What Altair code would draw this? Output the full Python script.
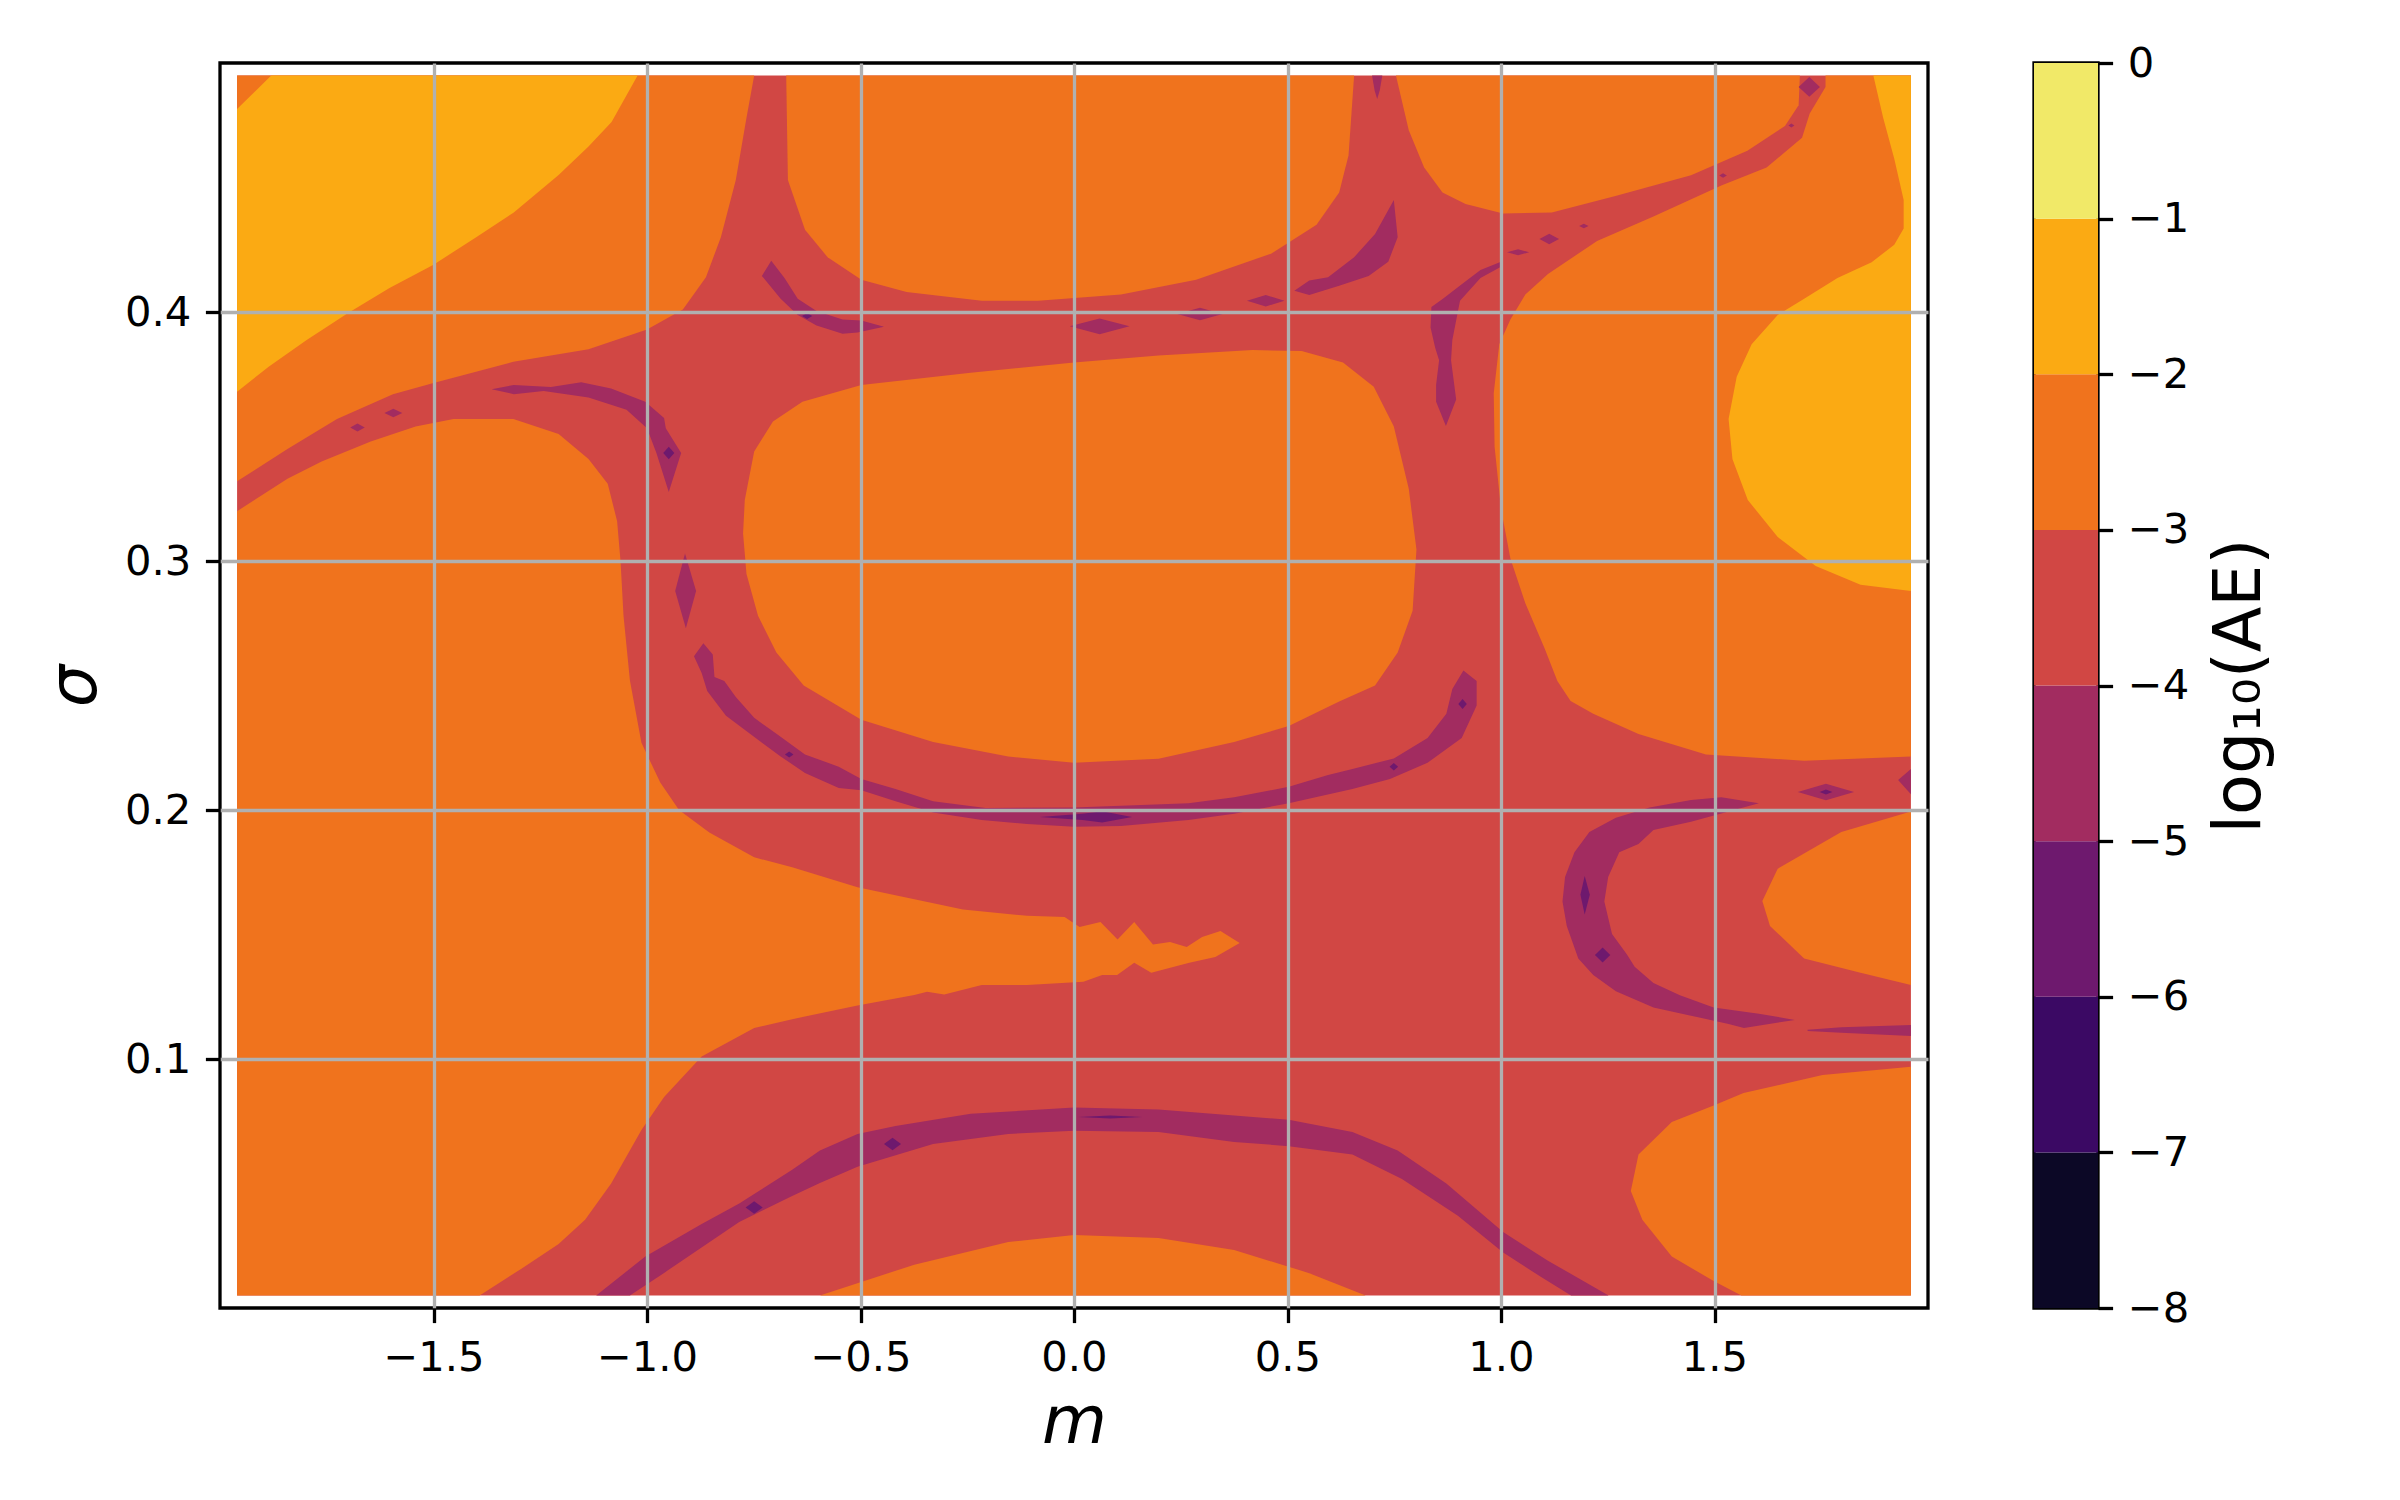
import altair as alt
import pandas as pd

# ---------------- colour bands (log10(AE) levels) ----------------
LEVELS = [-8, -7, -6, -5, -4, -3, -2, -1, 0]
BAND_NAMES = ["-8..-7", "-7..-6", "-6..-5", "-5..-4", "-4..-3", "-3..-2", "-2..-1", "-1..0"]
BAND_COLORS = ["#0c0826", "#3b0964", "#6e196e", "#a22c60", "#d14744", "#f0731d", "#fbaa13", "#f1e968"]

X_TICKS = [-1.5, -1.0, -0.5, 0.0, 0.5, 1.0, 1.5]
Y_TICKS = [0.1, 0.2, 0.3, 0.4]

# ---------------- contour regions, (m, sigma) vertices ----------------
# band -4..-3 : whole grid (background of the contour set)
RED_BG = [(-1.96, 0.005), (1.96, 0.005), (1.96, 0.495), (-1.96, 0.495)]

# band -3..-2 regions
ORANGE_A = [(-1.96, 0.495), (-1.96, 0.332), (-1.842, 0.345), (-1.726, 0.357), (-1.595, 0.367),
            (-1.50, 0.3715), (-1.313, 0.380), (-1.137, 0.385), (-1.0, 0.393), (-0.916, 0.401),
            (-0.862, 0.414), (-0.827, 0.430), (-0.792, 0.453), (-0.767, 0.478), (-0.749, 0.495)]
ORANGE_B = [(-1.96, 0.320), (-1.842, 0.333), (-1.762, 0.340), (-1.647, 0.348), (-1.542, 0.354),
            (-1.453, 0.357), (-1.313, 0.357), (-1.207, 0.351), (-1.137, 0.341), (-1.092, 0.331),
            (-1.07, 0.316), (-1.062, 0.300), (-1.055, 0.278), (-1.04, 0.252), (-1.013, 0.227),
            (-0.969, 0.211), (-0.925, 0.200), (-0.854, 0.191), (-0.749, 0.181), (-0.66, 0.177),
            (-0.507, 0.169), (-0.26, 0.160), (-0.11, 0.1575), (-0.022, 0.157), (0.013, 0.153),
            (0.062, 0.155), (0.102, 0.148), (0.141, 0.155), (0.185, 0.146), (0.225, 0.147),
            (0.264, 0.145), (0.30, 0.149), (0.343, 0.1514), (0.388, 0.1466), (0.331, 0.141),
            (0.27, 0.1387), (0.181, 0.1346), (0.141, 0.1387), (0.101, 0.1337), (0.066, 0.1337),
            (0.022, 0.131), (-0.11, 0.1297), (-0.216, 0.1297), (-0.304, 0.1259), (-0.344, 0.127),
            (-0.374, 0.1257), (-0.507, 0.1215), (-0.66, 0.116), (-0.749, 0.1124), (-0.872, 0.101),
            (-0.96, 0.0847), (-1.013, 0.0715), (-1.084, 0.050), (-1.145, 0.0354), (-1.207, 0.0257),
            (-1.295, 0.0157), (-1.392, 0.005), (-1.96, 0.005)]
ORANGE_C = [(-0.674, 0.495), (-0.67, 0.453), (-0.63, 0.433), (-0.577, 0.422), (-0.498, 0.413),
            (-0.392, 0.408), (-0.216, 0.4045), (-0.084, 0.4045), (0.11, 0.407), (0.286, 0.413),
            (0.4625, 0.4235), (0.568, 0.435), (0.621, 0.448), (0.643, 0.463), (0.656, 0.495)]
ORANGE_D = [(-0.705, 0.356), (-0.636, 0.364), (-0.498, 0.3707), (-0.242, 0.3756), (0.0, 0.3797),
            (0.198, 0.3825), (0.418, 0.3847), (0.533, 0.3843), (0.63, 0.3797), (0.702, 0.370),
            (0.749, 0.354), (0.784, 0.329), (0.802, 0.3046), (0.793, 0.280), (0.758, 0.2633),
            (0.705, 0.250), (0.621, 0.2436), (0.503, 0.2337), (0.375, 0.2273), (0.198, 0.2206),
            (0.0, 0.219), (-0.154, 0.2215), (-0.33, 0.2273), (-0.498, 0.2362), (-0.633, 0.250),
            (-0.697, 0.2633), (-0.74, 0.278), (-0.767, 0.2948), (-0.775, 0.311), (-0.771, 0.3245),
            (-0.749, 0.344)]
ORANGE_E = [(0.754, 0.495), (0.784, 0.473), (0.82, 0.458), (0.863, 0.448), (0.917, 0.4434),
            (1.005, 0.4396), (1.119, 0.440), (1.268, 0.4466), (1.445, 0.4549), (1.577, 0.4648),
            (1.665, 0.4747), (1.697, 0.483), (1.70, 0.495)]
ORANGE_F = [(1.76, 0.495), (1.76, 0.4904), (1.723, 0.4797), (1.705, 0.470), (1.622, 0.458),
            (1.516, 0.4508), (1.357, 0.4384), (1.225, 0.4285), (1.11, 0.4153), (1.057, 0.407),
            (1.022, 0.397), (0.996, 0.387), (0.983, 0.3674), (0.985, 0.3459), (1.0, 0.321),
            (1.022, 0.301), (1.057, 0.283), (1.102, 0.265), (1.132, 0.2518), (1.163, 0.2438),
            (1.216, 0.2387), (1.322, 0.2305), (1.48, 0.2223), (1.71, 0.2198), (1.96, 0.2215),
            (1.96, 0.495)]
ORANGE_G = [(1.96, 0.1994), (1.797, 0.1912), (1.648, 0.1764), (1.612, 0.1635), (1.63, 0.1534),
            (1.71, 0.1404), (1.842, 0.1346), (1.96, 0.1297)]
ORANGE_H = [(1.96, 0.0969), (1.753, 0.0936), (1.568, 0.0863), (1.498, 0.0813), (1.40, 0.0747),
            (1.322, 0.0616), (1.304, 0.047), (1.331, 0.0354), (1.40, 0.0207), (1.498, 0.0108),
            (1.563, 0.005), (1.96, 0.005)]
ORANGE_I = [(-0.595, 0.005), (-0.374, 0.0174), (-0.154, 0.0265), (0.0, 0.0293), (0.198, 0.0281),
            (0.375, 0.0233), (0.551, 0.014), (0.683, 0.005)]

# band -2..-1 regions
LIGHT_A = [(-1.96, 0.4815), (-1.88, 0.495), (-1.022, 0.495), (-1.083, 0.4763), (-1.137, 0.4665),
           (-1.207, 0.455), (-1.312, 0.440), (-1.40, 0.430), (-1.50, 0.419), (-1.603, 0.4096),
           (-1.70, 0.3996), (-1.797, 0.3888), (-1.886, 0.378), (-1.96, 0.368)]
LIGHT_B = [(1.872, 0.495), (1.895, 0.478), (1.921, 0.4615), (1.943, 0.445), (1.943, 0.4335),
           (1.921, 0.427), (1.868, 0.420), (1.788, 0.4137), (1.71, 0.4053), (1.648, 0.3988),
           (1.587, 0.387), (1.552, 0.374), (1.533, 0.357), (1.542, 0.341), (1.578, 0.3245),
           (1.648, 0.3096), (1.737, 0.298), (1.842, 0.2905), (1.96, 0.288), (1.96, 0.495)]

# band -5..-4 regions
PURPLE_1 = [(-1.364, 0.369), (-1.312, 0.3707), (-1.225, 0.3699), (-1.154, 0.3718), (-1.084, 0.3693),
            (-1.004, 0.364), (-0.96, 0.3574), (-0.956, 0.3533), (-0.92, 0.3434), (-0.949, 0.3277),
            (-0.978, 0.3434), (-1.0, 0.3533), (-1.048, 0.3607), (-1.137, 0.3657), (-1.242, 0.3683),
            (-1.312, 0.367)]
PURPLE_2 = [(-1.615, 0.3594), (-1.594, 0.3611), (-1.573, 0.3594), (-1.594, 0.3577)]
PURPLE_3 = [(-1.695, 0.3536), (-1.678, 0.3552), (-1.661, 0.3536), (-1.678, 0.352)]
PURPLE_4 = [(-0.911, 0.303), (-0.885, 0.288), (-0.909, 0.273), (-0.934, 0.288)]
PURPLE_5 = [(-0.868, 0.267), (-0.846, 0.2625), (-0.842, 0.2534), (-0.819, 0.2518), (-0.792, 0.2454),
            (-0.749, 0.237), (-0.696, 0.2305), (-0.63, 0.2223), (-0.551, 0.2174), (-0.498, 0.2124),
            (-0.418, 0.2084), (-0.33, 0.2035), (-0.207, 0.2008), (0.0, 0.201), (0.268, 0.2027),
            (0.375, 0.2051), (0.503, 0.2093), (0.595, 0.2141), (0.652, 0.2165), (0.749, 0.2207),
            (0.828, 0.2289), (0.872, 0.2387), (0.886, 0.2486), (0.912, 0.256), (0.943, 0.2518),
            (0.943, 0.242), (0.908, 0.2289), (0.828, 0.219), (0.74, 0.2124), (0.652, 0.2084),
            (0.503, 0.2027), (0.375, 0.1985), (0.268, 0.196), (0.11, 0.1936), (0.0, 0.1933),
            (-0.11, 0.1944), (-0.216, 0.196), (-0.33, 0.199), (-0.418, 0.2035), (-0.498, 0.2079),
            (-0.551, 0.2088), (-0.63, 0.2149), (-0.687, 0.2215), (-0.758, 0.2305), (-0.815, 0.2379),
            (-0.859, 0.2478), (-0.872, 0.255), (-0.89, 0.2617)]
PURPLE_6 = [(-0.709, 0.4206), (-0.678, 0.4137), (-0.647, 0.4053), (-0.603, 0.4004), (-0.542, 0.397),
            (-0.498, 0.3966), (-0.445, 0.3941), (-0.507, 0.3918), (-0.542, 0.3913), (-0.603, 0.3946),
            (-0.647, 0.3988), (-0.687, 0.4053), (-0.731, 0.4145)]
PURPLE_7 = [(-0.01, 0.3943), (0.06, 0.3974), (0.13, 0.3943), (0.06, 0.3911)]
PURPLE_8 = [(0.242, 0.3992), (0.295, 0.4017), (0.348, 0.3992), (0.295, 0.3967)]
PURPLE_9 = [(0.405, 0.4045), (0.449, 0.4068), (0.493, 0.4045), (0.449, 0.4022)]
PURPLE_10 = [(0.516, 0.4085), (0.551, 0.4127), (0.595, 0.414), (0.656, 0.422), (0.705, 0.4313),
             (0.749, 0.445), (0.758, 0.430), (0.736, 0.4202), (0.69, 0.4145), (0.621, 0.4105),
             (0.551, 0.4068)]
PURPLE_11 = [(0.698, 0.495), (0.722, 0.495), (0.716, 0.489), (0.71, 0.4855), (0.704, 0.489)]
PURPLE_12 = [(1.0, 0.4202), (0.952, 0.4169), (0.908, 0.4111), (0.864, 0.4053), (0.837, 0.402),
             (0.835, 0.3938), (0.846, 0.3855), (0.855, 0.3806), (0.848, 0.3707), (0.848, 0.364),
             (0.871, 0.3542), (0.895, 0.3649), (0.883, 0.3806), (0.886, 0.3888), (0.904, 0.4045),
             (0.952, 0.4137), (1.0, 0.4182)]
PURPLE_13 = [(1.014, 0.424), (1.04, 0.4252), (1.066, 0.424), (1.04, 0.4228)]
PURPLE_14 = [(1.09, 0.4293), (1.113, 0.4314), (1.136, 0.4293), (1.113, 0.4272)]
PURPLE_15 = [(1.183, 0.4345), (1.194, 0.4354), (1.205, 0.4345), (1.194, 0.4336)]
PURPLE_16 = [(1.511, 0.4548), (1.52, 0.4557), (1.529, 0.4548), (1.52, 0.4539)]
PURPLE_17 = [(1.673, 0.4749), (1.68, 0.4757), (1.687, 0.4749), (1.68, 0.4741)]
PURPLE_18 = [(1.697, 0.4904), (1.722, 0.4944), (1.747, 0.4904), (1.722, 0.4864)]
PURPLE_19 = [(1.604, 0.2027), (1.516, 0.2051), (1.445, 0.204), (1.348, 0.201), (1.269, 0.1969),
             (1.207, 0.1912), (1.172, 0.183), (1.15, 0.1731), (1.144, 0.1633), (1.154, 0.1534),
             (1.181, 0.1404), (1.216, 0.1337), (1.269, 0.1272), (1.357, 0.1207), (1.445, 0.1174),
             (1.533, 0.1141), (1.569, 0.1124), (1.688, 0.1157), (1.604, 0.1182), (1.498, 0.1207),
             (1.419, 0.1256), (1.357, 0.1305), (1.313, 0.137), (1.295, 0.142), (1.26, 0.1502),
             (1.242, 0.1633), (1.251, 0.1731), (1.277, 0.183), (1.322, 0.1863), (1.357, 0.192),
             (1.445, 0.1953), (1.533, 0.1994)]
PURPLE_20 = [(1.695, 0.2072), (1.761, 0.2105), (1.827, 0.2072), (1.761, 0.2039)]
PURPLE_21 = [(1.93, 0.212), (1.96, 0.2165), (1.96, 0.2063)]
PURPLE_22 = [(1.718, 0.1117), (1.797, 0.1128), (1.96, 0.1137), (1.96, 0.1092), (1.797, 0.1105),
             (1.718, 0.1112)]
PURPLE_23 = [(-1.119, 0.005), (-1.004, 0.0207), (-0.872, 0.0337), (-0.784, 0.042), (-0.66, 0.0555),
             (-0.595, 0.0633), (-0.507, 0.0699), (-0.418, 0.0731), (-0.242, 0.078), (0.0, 0.0805),
             (0.198, 0.0797), (0.503, 0.0756), (0.652, 0.0707), (0.758, 0.0633), (0.872, 0.050),
             (1.005, 0.0305), (1.11, 0.019), (1.252, 0.005), (1.164, 0.005), (1.094, 0.0124),
             (1.005, 0.0223), (0.899, 0.037), (0.768, 0.0518), (0.652, 0.0616), (0.503, 0.065),
             (0.375, 0.0667), (0.198, 0.0707), (0.0, 0.0712), (-0.154, 0.0699), (-0.33, 0.0659),
             (-0.507, 0.0567), (-0.595, 0.0502), (-0.66, 0.045), (-0.784, 0.0345), (-0.96, 0.0141),
             (-1.04, 0.005)]

# band -6..-5 specks
DARK_1 = [(-0.962, 0.3434), (-0.949, 0.3459), (-0.936, 0.3434), (-0.949, 0.3409)]
DARK_2 = [(-0.637, 0.3984), (-0.625, 0.3996), (-0.613, 0.3984), (-0.625, 0.3972)]
DARK_3 = [(-0.08, 0.1972), (0.02, 0.1985), (0.066, 0.1995), (0.136, 0.1972), (0.066, 0.195), (0.02, 0.196)]
DARK_4 = [(-0.677, 0.2223), (-0.667, 0.2235), (-0.657, 0.2223), (-0.667, 0.2211)]
DARK_5 = [(1.196, 0.1735), (1.208, 0.166), (1.196, 0.158), (1.186, 0.166)]
DARK_6 = [(1.22, 0.1418), (1.238, 0.1448), (1.256, 0.1418), (1.238, 0.1388)]
DARK_7 = [(-0.769, 0.0404), (-0.749, 0.0429), (-0.729, 0.0404), (-0.749, 0.0379)]
DARK_8 = [(-0.445, 0.0659), (-0.425, 0.0684), (-0.405, 0.0659), (-0.425, 0.0634)]
DARK_9 = [(0.01, 0.0767), (0.085, 0.0773), (0.16, 0.0767), (0.085, 0.0761)]
DARK_10 = [(1.746, 0.2072), (1.761, 0.2082), (1.776, 0.2072), (1.761, 0.2062)]
DARK_11 = [(0.9, 0.2426), (0.91, 0.2446), (0.92, 0.2426), (0.91, 0.2406)]
DARK_12 = [(0.739, 0.2174), (0.749, 0.2189), (0.759, 0.2174), (0.749, 0.2159)]

REGIONS = [
    # (name, band index, drawing layer, vertices)
    ("red_bg", 4, 0, RED_BG),
    ("orange_a", 5, 1, ORANGE_A), ("orange_b", 5, 1, ORANGE_B), ("orange_c", 5, 1, ORANGE_C),
    ("orange_d", 5, 1, ORANGE_D), ("orange_e", 5, 1, ORANGE_E), ("orange_f", 5, 1, ORANGE_F),
    ("orange_g", 5, 1, ORANGE_G), ("orange_h", 5, 1, ORANGE_H), ("orange_i", 5, 1, ORANGE_I),
    ("light_a", 6, 2, LIGHT_A), ("light_b", 6, 2, LIGHT_B),
    ("p1", 3, 3, PURPLE_1), ("p2", 3, 3, PURPLE_2), ("p3", 3, 3, PURPLE_3), ("p4", 3, 3, PURPLE_4),
    ("p5", 3, 3, PURPLE_5), ("p6", 3, 3, PURPLE_6), ("p7", 3, 3, PURPLE_7), ("p8", 3, 3, PURPLE_8),
    ("p9", 3, 3, PURPLE_9), ("p10", 3, 3, PURPLE_10), ("p11", 3, 3, PURPLE_11), ("p12", 3, 3, PURPLE_12),
    ("p13", 3, 3, PURPLE_13), ("p14", 3, 3, PURPLE_14), ("p15", 3, 3, PURPLE_15), ("p16", 3, 3, PURPLE_16),
    ("p17", 3, 3, PURPLE_17), ("p18", 3, 3, PURPLE_18), ("p19", 3, 3, PURPLE_19), ("p20", 3, 3, PURPLE_20),
    ("p21", 3, 3, PURPLE_21), ("p22", 3, 3, PURPLE_22), ("p23", 3, 3, PURPLE_23),
    ("d1", 2, 4, DARK_1), ("d2", 2, 4, DARK_2), ("d3", 2, 4, DARK_3), ("d4", 2, 4, DARK_4),
    ("d5", 2, 4, DARK_5), ("d6", 2, 4, DARK_6), ("d7", 2, 4, DARK_7), ("d8", 2, 4, DARK_8),
    ("d9", 2, 4, DARK_9), ("d10", 2, 4, DARK_10), ("d11", 2, 4, DARK_11), ("d12", 2, 4, DARK_12),
]

rows = []
for name, band, layer, pts in REGIONS:
    for i, (m, s) in enumerate(pts):
        rows.append({"poly": name, "band": BAND_NAMES[band], "layer": layer, "i": i, "m": m, "s": s})
df = pd.DataFrame(rows)

FONT = "DejaVu Sans"
TICK_FS = 41.7
TITLE_FS = 66.7

color_scale = alt.Scale(domain=BAND_NAMES, range=BAND_COLORS)

x_enc = alt.X("m:Q", scale=alt.Scale(domain=[-2, 2], nice=False, zero=False),
              axis=alt.Axis(values=X_TICKS, format=".1f", title="m", titleFontStyle="italic",
                            titlePadding=11, labelFlush=False, zindex=1))
y_enc = alt.Y("s:Q", scale=alt.Scale(domain=[0, 0.5], nice=False, zero=False),
              axis=alt.Axis(values=Y_TICKS, format=".1f", title="σ", titleFontStyle="italic",
                            titlePadding=15, labelFlush=False, zindex=1))

base = alt.Chart(df).mark_line(filled=True).encode(
    x=x_enc, y=y_enc,
    order=alt.Order("i:Q"),
    detail="poly:N",
    color=alt.Color("band:N", scale=color_scale, legend=None),
)
layers = [base.transform_filter(alt.datum.layer == k) for k in range(5)]
main = alt.layer(*layers).properties(width=1708, height=1245)

cb_df = pd.DataFrame({"lo": LEVELS[:-1], "hi": LEVELS[1:], "band": BAND_NAMES})
colorbar = alt.Chart(cb_df).mark_rect().encode(
    y=alt.Y("lo:Q", scale=alt.Scale(domain=[-8, 0], nice=False, zero=False),
            axis=alt.Axis(orient="right", values=LEVELS, format="d", title="log₁₀(AE)",
                          titleAngle=270, titleBaseline="top", titlePadding=18, grid=False,
                          labelFlush=False, zindex=1)),
    y2="hi:Q",
    color=alt.Color("band:N", scale=color_scale, legend=None),
).properties(width=64, height=1245)

chart = alt.hconcat(main, colorbar, spacing=102).properties(
    padding={"left": 32, "top": 33, "right": 5, "bottom": 5},
    background="white",
).configure_view(
    stroke="black", strokeWidth=3.3
).configure_axis(
    labelFont=FONT, titleFont=FONT, labelFontSize=TICK_FS, titleFontSize=TITLE_FS,
    labelColor="black", titleColor="black", titleFontWeight="normal",
    tickSize=14.6, tickWidth=3.3, tickColor="black", labelPadding=14.6,
    grid=True, gridColor="#b0b0b0", gridWidth=3.3, domain=False,
)

chart.save("out.html", embed_options={"renderer": "svg", "actions": False})
